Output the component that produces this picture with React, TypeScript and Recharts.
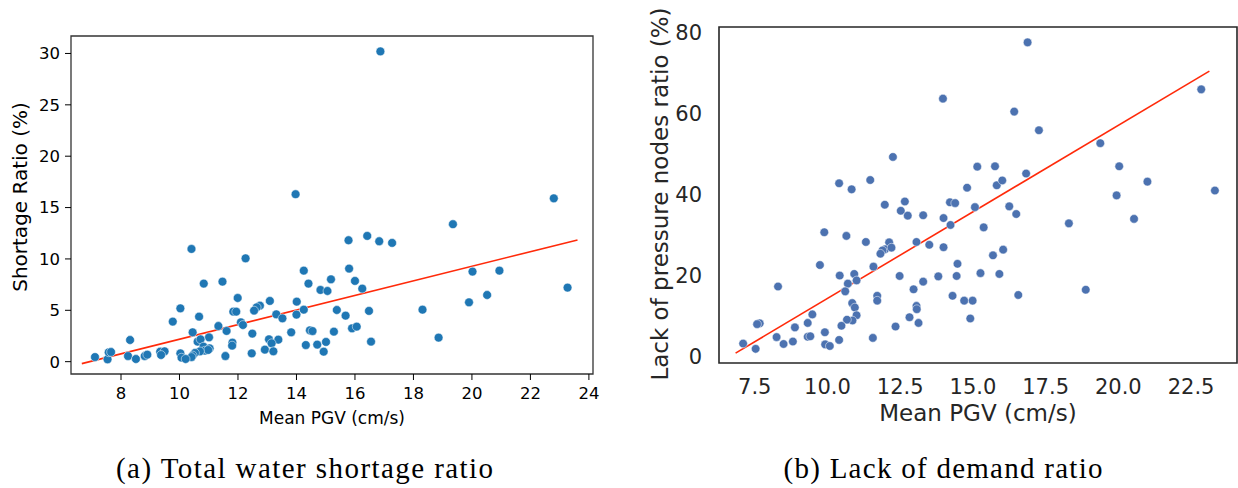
import React from 'react';
import { ScatterChart, Scatter, XAxis, YAxis, ReferenceLine, ReferenceArea, Label } from 'recharts';

if (typeof document !== 'undefined') {
  document.body.style.margin = '0';
}

// ---------- Panel (a): total water shortage ratio ----------
const leftX = [
  16.87, 13.97, 22.8, 10.41, 12.26, 14.25, 15.18, 14.41, 10.83, 11.47,
  14.82, 15.06, 15.38, 11.99, 13.09, 14.01, 10.03, 12.75, 12.64, 12.55,
  11.84, 11.94, 14.25, 14.0, 13.31, 13.52, 10.67, 9.77, 11.33, 12.1,
  12.17, 11.61, 10.45, 12.49, 13.82, 14.46, 14.55, 15.28, 11.01, 10.62,
  10.72, 8.31, 11.81, 11.8, 13.06, 13.38, 13.15, 12.92, 13.21, 12.47,
  14.32, 14.71, 15.01, 14.93, 11.57, 10.82, 11.03, 10.87, 10.98, 10.7,
  10.53, 10.45, 10.41, 10.03, 10.07, 10.21, 7.11, 7.54, 7.58, 7.66,
  8.24, 8.51, 8.81, 8.9, 9.34, 9.49, 9.37, 19.35, 16.42, 15.78,
  16.83, 17.27, 15.8, 16.0, 16.25, 15.68, 16.48, 15.9, 16.06, 16.55,
  18.31, 18.86, 20.02, 20.94, 19.9, 20.52, 23.27,
];
const leftY = [
  30.2, 16.3, 15.9, 10.97, 10.06, 8.86, 8.02, 7.6, 7.6, 7.79,
  6.98, 6.88, 5.03, 6.2, 5.91, 5.84, 5.19, 5.45, 5.29, 4.97,
  4.87, 4.87, 5.06, 4.58, 4.61, 4.22, 4.38, 3.9, 3.47, 3.83,
  3.57, 2.99, 2.86, 2.73, 2.86, 3.05, 2.98, 2.92, 2.37, 1.95,
  2.18, 2.11, 1.85, 1.56, 2.18, 2.14, 1.79, 1.17, 1.01, 0.81,
  1.62, 1.66, 1.92, 0.97, 0.55, 1.46, 1.3, 1.07, 1.14, 1.0,
  0.85, 0.6, 0.45, 0.81, 0.39, 0.26, 0.45, 0.23, 0.91, 0.94,
  0.55, 0.26, 0.55, 0.68, 0.97, 1.01, 0.65, 13.38, 12.24, 11.82,
  11.72, 11.56, 9.06, 7.86, 7.11, 4.48, 4.94, 3.25, 3.41, 1.95,
  5.06, 2.34, 8.77, 8.86, 5.78, 6.49, 7.21,
];
const leftFitX = [6.66, 23.61];
const leftFitY = [-0.19, 11.85];
const leftXTicks = [8, 10, 12, 14, 16, 18, 20, 22, 24];
const leftYTicks = [0, 5, 10, 15, 20, 25, 30];
const leftXDomain = [6.29, 24.14];
const leftYDomain = [-1.2, 31.7];

// ---------- Panel (b): lack of demand ratio ----------
const rightX = [
  13.97, 12.25, 10.4, 10.83, 11.47, 15.15, 14.8, 16.88, 22.85, 16.42,
  17.27, 19.38, 15.76, 20.03, 15.82, 16.01, 16.83, 21.0, 19.94, 23.32,
  11.97, 12.66, 12.52, 12.76, 13.29, 14.21, 14.39, 15.07, 13.99, 14.23,
  9.89, 10.65, 11.32, 12.12, 11.98, 11.89, 12.2, 11.82, 13.06, 13.5,
  13.99, 9.74, 11.58, 14.47, 15.26, 10.42, 10.92, 11.0, 10.7, 10.61,
  12.48, 13.29, 12.96, 13.81, 14.44, 8.3, 11.71, 11.71, 14.3, 14.7,
  14.99, 14.91, 13.06, 13.07, 12.82, 13.13, 12.34, 11.56, 9.48, 10.85,
  10.94, 11.0, 10.86, 10.67, 10.48, 10.4, 9.91, 9.92, 10.08, 9.32,
  8.88, 7.67, 7.58, 8.25, 8.49, 8.81, 9.32, 9.41, 7.1, 7.53,
  16.25, 16.49, 18.3, 20.54, 15.37, 16.04, 15.69, 15.91, 16.56, 18.88,
];
const rightY = [
  63.7, 49.3, 42.8, 41.3, 43.6, 46.9, 41.7, 77.6, 66.0, 60.5,
  55.9, 52.7, 47.0, 47.0, 42.3, 43.5, 45.2, 43.2, 39.8, 41.0,
  37.5, 38.3, 36.0, 34.8, 34.9, 38.1, 37.9, 36.9, 34.2, 32.5,
  30.7, 29.8, 28.3, 28.2, 26.5, 26.2, 26.9, 25.4, 28.3, 27.6,
  27.0, 22.6, 22.2, 22.9, 20.6, 20.0, 20.4, 18.8, 18.0, 16.1,
  19.9, 18.5, 16.6, 19.8, 19.9, 17.3, 15.0, 13.8, 15.0, 13.8,
  13.8, 9.4, 12.5, 11.7, 9.7, 8.3, 7.4, 4.6, 10.4, 13.2,
  12.1, 10.2, 8.9, 9.1, 7.6, 4.1, 6.0, 3.0, 2.6, 8.3,
  7.2, 8.2, 8.0, 4.8, 3.1, 3.7, 4.9, 5.0, 3.2, 1.9,
  37.1, 35.2, 32.9, 34.0, 31.9, 26.4, 25.0, 20.4, 15.2, 16.5,
];
const rightFitX = [6.84, 23.13];
const rightFitY = [0.84, 70.5];
const rightXTicks = [7.5, 10, 12.5, 15, 17.5, 20, 22.5];
const rightYTicks = [0, 20, 40, 60, 80];
const rightXDomain = [6.27, 24.08];
const rightYDomain = [-1.6, 81.4];

const xTitle = 'Mean PGV (cm/s)';
const leftYTitle = 'Shortage Ratio (%)';
const rightYTitle = 'Lack of pressure nodes ratio (%)';
const captions = ['(a) Total water shortage ratio', '(b) Lack of demand ratio'];

const leftData = leftX.map((x, i) => ({ x, y: leftY[i] }));
const rightData = rightX.map((x, i) => ({ x, y: rightY[i] }));

const FONT = '"DejaVu Sans", sans-serif';

const makeDot = (fill: string, r: number) => (p: any) => {
  if (p == null || p.cx == null || p.cy == null) return <g />;
  return <circle cx={p.cx} cy={p.cy} r={r} fill={fill} stroke="#ffffff" strokeWidth={0.5} />;
};

const yTitle = (text: string, cx: number, shift: number, size: number, color: string) => (props: any) => {
  const vb = props && props.viewBox ? props.viewBox : { x: 0, y: 0, width: 0, height: 0 };
  const cy = vb.y + vb.height / 2 + shift;
  return (
    <text
      x={cx}
      y={cy}
      transform={`rotate(-90 ${cx} ${cy})`}
      textAnchor="middle"
      dominantBaseline="central"
      fontFamily={FONT}
      fontSize={size}
      fill={color}
    >
      {text}
    </text>
  );
};

const xTitle2 = (text: string, baseline: number, size: number, color: string) => (props: any) => {
  const vb = props && props.viewBox ? props.viewBox : { x: 0, y: 0, width: 0, height: 0 };
  const cx = vb.x + vb.width / 2;
  return (
    <text x={cx} y={baseline} textAnchor="middle" fontFamily={FONT} fontSize={size} fill={color}>
      {text}
    </text>
  );
};

export default function App() {
  const leftColor = '#1f77b4';
  const rightColor = '#4c72b0';
  const fitColor = '#ff2a0a';
  const dark = '#262626';
  return (
    <div style={{ position: 'relative', width: 1238, height: 488, background: '#fff', overflow: 'hidden' }}>
      <div style={{ position: 'absolute', left: 0, top: 0 }}>
        <ScatterChart width={600} height={440} margin={{ top: 36, right: 7, bottom: 6, left: 0 }}>
          <XAxis
            type="number"
            dataKey="x"
            domain={leftXDomain}
            allowDataOverflow
            ticks={leftXTicks}
            interval={0}
            height={60}
            axisLine={false}
            tickSize={6}
            tickMargin={7}
            tickLine={{ stroke: '#000', strokeWidth: 1 }}
            tick={{ fontSize: 16.5, fill: '#000', fontFamily: FONT }}
          >
            <Label content={xTitle2(xTitle, 424, 17, '#000')} />
          </XAxis>
          <YAxis
            type="number"
            dataKey="y"
            domain={leftYDomain}
            allowDataOverflow
            ticks={leftYTicks}
            interval={0}
            width={71}
            axisLine={false}
            tickSize={6}
            tickMargin={5}
            tickLine={{ stroke: '#000', strokeWidth: 1 }}
            tick={{ fontSize: 16.5, fill: '#000', fontFamily: FONT }}
          >
            <Label content={yTitle(leftYTitle, 20, -8, 20, '#000')} />
          </YAxis>
          <ReferenceArea
            x1={leftXDomain[0]}
            x2={leftXDomain[1]}
            y1={leftYDomain[0]}
            y2={leftYDomain[1]}
            fill="none"
            fillOpacity={0}
            stroke="#333"
            strokeWidth={1.3}
            strokeOpacity={1}
          />
          <Scatter data={leftData} isAnimationActive={false} shape={makeDot(leftColor, 4.4)} />
          <ReferenceLine
            segment={[
              { x: leftFitX[0], y: leftFitY[0] },
              { x: leftFitX[1], y: leftFitY[1] },
            ]}
            stroke={fitColor}
            strokeWidth={1.6}
          />
        </ScatterChart>
      </div>

      <div style={{ position: 'absolute', left: 620, top: 0 }}>
        <ScatterChart width={618} height={440} margin={{ top: 27, right: 1, bottom: 7, left: 0 }}>
          <XAxis
            type="number"
            dataKey="x"
            domain={rightXDomain}
            allowDataOverflow
            ticks={rightXTicks}
            interval={0}
            height={70}
            axisLine={false}
            tickLine={false}
            tickSize={0}
            tickMargin={16}
            tickFormatter={(v: number) => v.toFixed(1)}
            tick={{ fontSize: 21, fill: dark, fontFamily: FONT }}
          >
            <Label content={xTitle2(xTitle, 421, 23, dark)} />
          </XAxis>
          <YAxis
            type="number"
            dataKey="y"
            domain={rightYDomain}
            allowDataOverflow
            ticks={rightYTicks}
            interval={0}
            width={99}
            axisLine={false}
            tickLine={false}
            tickSize={0}
            tickMargin={17}
            tick={{ fontSize: 21, fill: dark, fontFamily: FONT }}
          >
            <Label content={yTitle(rightYTitle, 40, -1, 23, dark)} />
          </YAxis>
          <ReferenceArea
            x1={rightXDomain[0]}
            x2={rightXDomain[1]}
            y1={rightYDomain[0]}
            y2={rightYDomain[1]}
            fill="none"
            fillOpacity={0}
            stroke={dark}
            strokeWidth={1.6}
            strokeOpacity={1}
          />
          <Scatter data={rightData} isAnimationActive={false} shape={makeDot(rightColor, 4.3)} />
          <ReferenceLine
            segment={[
              { x: rightFitX[0], y: rightFitY[0] },
              { x: rightFitX[1], y: rightFitY[1] },
            ]}
            stroke={fitColor}
            strokeWidth={1.6}
          />
        </ScatterChart>
      </div>

      <svg width={1238} height={488} style={{ position: 'absolute', left: 0, top: 0, pointerEvents: 'none' }}>
        <text
          x={304.5}
          y={478}
          textAnchor="middle"
          fontFamily='"Liberation Serif", serif'
          fontSize={29}
          textLength={377}
          lengthAdjust="spacing"
          fill="#000"
        >
          {captions[0]}
        </text>
        <text
          x={943}
          y={478}
          textAnchor="middle"
          fontFamily='"Liberation Serif", serif'
          fontSize={29}
          textLength={319}
          lengthAdjust="spacing"
          fill="#000"
        >
          {captions[1]}
        </text>
      </svg>
    </div>
  );
}
